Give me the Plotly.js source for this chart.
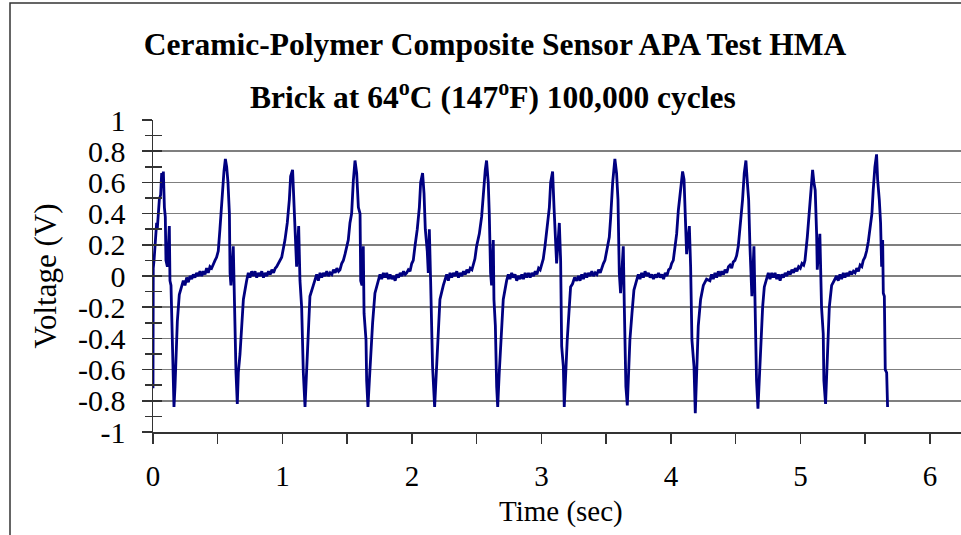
<!DOCTYPE html>
<html>
<head>
<meta charset="utf-8">
<script src="https://cdn.plot.ly/plotly-3.0.1.min.js"></script>
<style>
  html, body { margin: 0; padding: 0; background: #fff; }
  #chart { width: 961px; height: 535px; }
</style>
</head>
<body>
<div id="chart"></div>
<script>
// ---- Data ----
const titleLine1 = 'Ceramic-Polymer Composite Sensor APA Test HMA';
const titleLine2 = 'Brick at 64<sup>o</sup>C (147<sup>o</sup>F) 100,000 cycles';
const xTitle = 'Time (sec)';
const yTitle = 'Voltage (V)';

const xTickVals = [0, 1, 2, 3, 4, 5, 6];
const xTickText = ['0', '1', '2', '3', '4', '5', '6'];
const yTickVals = [-1, -0.8, -0.6, -0.4, -0.2, 0, 0.2, 0.4, 0.6, 0.8, 1];
const yTickText = ['-1', '-0.8', '-0.6', '-0.4', '-0.2', '0', '0.2', '0.4', '0.6', '0.8', '1'];

const timeSec = [
  // cycle 0
  0.000,0.002,0.008,0.015,0.018,0.028,0.033,0.049,0.059,0.067,0.072,0.080,0.088,0.095,0.100,0.111,0.126,0.131,0.139,0.147,0.152,0.162,0.170,0.178,0.188,0.203,0.221,
  0.234,0.247,0.260,0.273,0.286,0.299,0.311,0.324,0.337,0.350,0.363,0.376,0.389,0.402,0.414,0.427,0.440,0.453,0.466,
  // cycle 1
  0.479,0.491,0.504,0.517,0.528,0.538,0.548,0.559,0.569,0.579,0.590,0.595,0.602,0.620,0.626,0.636,0.641,0.651,0.659,0.672,0.685,0.698,0.723,
  0.736,0.749,0.762,0.775,0.788,0.801,0.814,0.827,0.840,0.853,0.866,0.879,0.892,0.905,0.918,0.931,0.944,
  // cycle 2
  0.955,0.970,0.994,1.019,1.037,1.053,1.063,1.078,1.089,1.099,1.109,1.125,1.135,1.148,1.161,1.174,1.187,1.199,1.212,1.238,
  1.251,1.264,1.277,1.290,1.303,1.316,1.329,1.342,1.355,1.368,1.381,1.394,1.407,1.420,1.433,1.444,
  // cycle 3
  1.457,1.470,1.483,1.496,1.508,1.521,1.534,1.547,1.560,1.573,1.586,1.599,1.604,1.614,1.624,1.630,1.645,1.650,1.660,1.671,1.681,1.696,1.714,1.740,
  1.753,1.766,1.779,1.792,1.805,1.818,1.831,1.844,1.857,1.870,1.883,1.896,1.909,1.922,1.935,1.948,
  // cycle 4
  1.959,1.972,1.985,1.998,2.010,2.023,2.041,2.057,2.067,2.082,2.093,2.103,2.118,2.126,2.134,2.144,2.152,2.159,2.175,2.190,2.203,2.216,2.242,
  2.255,2.268,2.281,2.294,2.307,2.320,2.333,2.346,2.359,2.372,2.385,2.398,2.411,2.424,2.437,2.450,2.463,
  // cycle 5
  2.473,2.486,2.499,2.520,2.538,2.551,2.566,2.576,2.589,2.597,2.607,2.615,2.628,2.633,2.644,2.654,2.662,2.674,2.687,2.705,2.731,
  2.744,2.757,2.770,2.783,2.796,2.809,2.822,2.835,2.848,2.861,2.874,2.887,2.900,2.913,2.926,2.939,2.952,2.965,2.978,2.990,
  // cycle 6
  3.001,3.014,3.027,3.045,3.061,3.071,3.086,3.097,3.107,3.117,3.138,3.148,3.156,3.169,3.176,3.189,3.199,3.215,3.225,3.240,3.256,3.272,
  3.285,3.298,3.311,3.324,3.337,3.350,3.363,3.376,3.389,3.402,3.415,3.428,3.441,3.454,3.467,
  // cycle 7
  3.478,3.490,3.503,3.524,3.534,3.550,3.567,3.580,3.591,3.601,3.611,3.632,3.640,3.652,3.663,3.673,3.683,3.699,3.714,3.731,3.748,
  3.761,3.774,3.787,3.800,3.813,3.826,3.839,3.852,3.865,3.878,3.891,3.904,3.917,3.930,3.943,3.956,3.969,3.982,3.995,
  // cycle 8
  4.005,4.018,4.031,4.044,4.057,4.075,4.090,4.101,4.111,4.121,4.142,4.152,4.162,4.178,4.188,4.198,4.211,4.229,4.250,4.275,4.301,
  4.314,4.327,4.340,4.353,4.366,4.379,4.392,4.405,4.418,4.431,4.444,
  // cycle 9
  4.456,4.469,4.481,4.494,4.507,4.520,4.538,4.553,4.566,4.579,4.590,4.600,4.610,4.615,4.625,4.641,4.649,4.654,4.661,4.672,4.683,4.693,4.708,4.721,4.737,4.752,
  4.765,4.778,4.791,4.804,4.817,4.830,4.843,4.856,4.869,4.882,4.895,4.908,4.921,4.934,4.947,4.960,4.973,4.986,4.999,5.012,5.025,
  // cycle 10
  5.035,5.053,5.068,5.079,5.094,5.104,5.114,5.125,5.130,5.150,5.158,5.163,5.176,5.181,5.194,5.202,5.212,5.223,5.241,5.260,5.279,
  5.292,5.305,5.318,5.331,5.344,5.357,5.370,5.383,5.396,5.409,5.422,5.435,5.448,5.461,5.474,
  // cycle 11
  5.485,5.498,5.511,5.524,5.537,5.552,5.562,5.575,5.588,5.596,5.609,5.619,5.627,5.635,5.640,5.648,5.655,5.666,5.673
];

const voltageV = [
  // cycle 0
  -0.72,0.05,0.10,0.21,0.18,0.34,0.30,0.49,0.52,0.66,0.58,0.67,0.44,0.38,0.10,0.06,0.32,-0.03,-0.06,-0.41,-0.62,-0.84,-0.71,-0.52,-0.29,-0.12,-0.07,
  -0.03,-0.06,-0.01,-0.04,0.00,-0.02,0.01,-0.01,0.02,0.00,0.03,0.00,0.03,0.01,0.05,0.02,0.06,0.05,0.08,
  // cycle 1
  0.10,0.12,0.16,0.30,0.44,0.60,0.67,0.75,0.70,0.60,0.40,0.02,-0.06,0.19,-0.07,-0.41,-0.62,-0.82,-0.62,-0.50,-0.32,-0.15,-0.03,
  0.02,-0.01,0.03,0.00,0.03,-0.01,0.02,0.00,0.03,-0.01,0.02,0.00,0.03,0.01,0.04,0.02,0.05,
  // cycle 2
  0.06,0.08,0.12,0.23,0.34,0.49,0.64,0.68,0.49,0.23,0.06,0.32,-0.03,-0.20,-0.62,-0.84,-0.62,-0.32,-0.13,-0.06,
  -0.02,0.01,-0.03,0.02,-0.01,0.02,0.00,0.03,0.00,0.02,0.01,0.04,0.02,0.05,0.03,0.04,
  // cycle 3
  0.08,0.10,0.14,0.19,0.23,0.34,0.40,0.61,0.74,0.66,0.44,0.40,-0.03,-0.06,0.19,-0.24,-0.41,-0.67,-0.84,-0.67,-0.50,-0.30,-0.11,-0.03,
  0.01,-0.02,0.02,-0.01,0.02,-0.02,0.01,-0.02,0.00,-0.03,0.01,-0.01,0.02,0.00,0.03,0.01,
  // cycle 4
  0.02,0.04,0.03,0.08,0.10,0.19,0.30,0.44,0.60,0.66,0.53,0.30,0.16,0.02,0.30,-0.03,-0.41,-0.58,-0.84,-0.58,-0.32,-0.15,-0.06,
  -0.02,0.01,-0.03,0.02,-0.01,0.02,0.00,0.03,-0.01,0.02,0.00,0.03,0.01,0.04,0.02,0.05,0.04,
  // cycle 5
  0.08,0.11,0.19,0.27,0.38,0.55,0.68,0.74,0.60,0.40,0.02,-0.06,0.23,-0.15,-0.32,-0.71,-0.84,-0.62,-0.41,-0.15,-0.03,
  0.01,-0.02,0.02,-0.01,0.01,-0.03,0.00,-0.02,0.01,-0.02,0.02,-0.01,0.02,-0.01,0.02,0.00,0.03,0.01,0.05,0.04,
  // cycle 6
  0.08,0.11,0.19,0.32,0.44,0.60,0.67,0.44,0.23,0.08,0.34,0.10,-0.45,-0.58,-0.84,-0.58,-0.41,-0.20,-0.07,-0.05,-0.01,-0.03,
  0.00,-0.03,0.01,-0.02,0.02,-0.01,0.02,0.00,0.03,0.00,0.02,0.01,0.04,0.02,0.06,
  // cycle 7
  0.08,0.10,0.15,0.25,0.37,0.60,0.75,0.66,0.49,0.02,-0.11,0.19,-0.20,-0.71,-0.83,-0.62,-0.41,-0.24,-0.09,-0.04,0.01,
  -0.02,0.02,-0.01,0.03,0.00,0.02,-0.01,0.01,-0.02,0.01,-0.01,0.02,-0.01,0.01,-0.02,0.02,0.00,0.04,0.05,
  // cycle 8
  0.08,0.10,0.19,0.27,0.42,0.55,0.67,0.62,0.38,0.14,0.32,0.06,-0.41,-0.58,-0.88,-0.58,-0.32,-0.15,-0.06,-0.02,-0.03,
  0.01,-0.02,0.02,-0.01,0.03,0.00,0.03,0.01,0.04,0.02,0.06,
  // cycle 9
  0.07,0.05,0.09,0.10,0.13,0.19,0.34,0.49,0.66,0.74,0.60,0.49,0.19,0.02,-0.13,0.19,-0.15,-0.37,-0.67,-0.85,-0.62,-0.45,-0.20,-0.07,-0.03,0.02,
  -0.02,0.02,-0.01,0.02,-0.02,0.01,-0.03,0.01,-0.01,0.02,0.00,0.03,0.01,0.04,0.02,0.05,0.03,0.06,0.05,0.08,0.07,
  // cycle 10
  0.10,0.25,0.42,0.55,0.68,0.60,0.55,0.27,0.04,0.27,0.02,-0.20,-0.37,-0.67,-0.82,-0.62,-0.41,-0.20,-0.06,-0.03,0.00,
  -0.03,0.01,-0.02,0.02,-0.01,0.02,0.00,0.03,0.01,0.03,0.02,0.05,0.03,0.07,0.06,
  // cycle 11
  0.10,0.12,0.16,0.22,0.30,0.40,0.55,0.70,0.78,0.62,0.49,0.34,0.06,0.23,-0.11,-0.13,-0.60,-0.62,-0.84
];

// ---- Chart ----
const FONT = '"Liberation Serif", "Times New Roman", Times, serif';
const AXIS_COLOR = '#333333';

const traces = [
  {
    type: 'scatter',
    mode: 'lines',
    x: timeSec,
    y: voltageV,
    line: { color: '#000080', width: 2.8 },
    hoverinfo: 'x+y',
    showlegend: false
  },
  {
    // invisible helper so the crossing-tick overlay axis is drawn
    type: 'scatter',
    mode: 'markers',
    x: [timeSec[0]],
    y: [voltageV[0]],
    yaxis: 'y2',
    marker: { opacity: 0 },
    hoverinfo: 'skip',
    showlegend: false
  }
];

const layout = {
  width: 961,
  height: 535,
  paper_bgcolor: '#ffffff',
  plot_bgcolor: '#ffffff',
  font: { family: FONT, color: '#000000', size: 29 },
  margin: { l: 153, r: 0, t: 120, b: 103, pad: 0 },
  showlegend: false,
  title: {
    text: '<b>' + titleLine1 + '</b>',
    font: { family: FONT, size: 31.5, color: '#000000' },
    xref: 'container', x: 495 / 961, xanchor: 'center',
    yref: 'container', y: 1 - 44 / 535, yanchor: 'middle'
  },
  annotations: [
    {
      text: '<b>' + titleLine2 + '</b>',
      xref: 'paper', x: (493 - 153) / 808, xanchor: 'center',
      yref: 'paper', y: 1 + (120 - 95) / 312, yanchor: 'middle',
      showarrow: false,
      font: { family: FONT, size: 31.5, color: '#000000' }
    },
    {
      text: xTitle,
      xref: 'paper', x: (561 - 153) / 808, xanchor: 'center',
      yref: 'paper', y: (432 - 511) / 312, yanchor: 'middle',
      showarrow: false,
      font: { family: FONT, size: 29, color: '#000000' }
    }
  ],
  xaxis: {
    range: [0, 6.24],
    tickvals: xTickVals,
    ticktext: xTickText,
    ticks: 'outside',
    ticklen: 10,
    tickwidth: 1.5,
    tickcolor: AXIS_COLOR,
    minor: { ticks: 'outside', ticklen: 10, tickwidth: 1.5, tickcolor: AXIS_COLOR, dtick: 0.5, tick0: 0, showgrid: false },
    showline: true,
    linecolor: AXIS_COLOR,
    linewidth: 1.5,
    showgrid: false,
    zeroline: false,
    tickfont: { family: FONT, size: 29, color: '#000000' },
    ticklabelstandoff: 8,
    automargin: false,
    fixedrange: true
  },
  yaxis: {
    range: [-1, 1],
    tickvals: yTickVals,
    ticktext: yTickText,
    ticks: 'outside',
    ticklen: 10,
    tickwidth: 1.5,
    tickcolor: AXIS_COLOR,
    minor: { ticks: 'outside', ticklen: 7, tickwidth: 1.5, tickcolor: AXIS_COLOR, dtick: 0.1, tick0: 0, showgrid: false },
    showline: true,
    linecolor: AXIS_COLOR,
    linewidth: 1.5,
    showgrid: true,
    gridcolor: '#7f7f7f',
    gridwidth: 1.5,
    zeroline: false,
    tickfont: { family: FONT, size: 30, color: '#000000' },
    ticklabelstandoff: 10,
    title: { text: yTitle, font: { family: FONT, size: 31, color: '#000000' }, standoff: 12 },
    automargin: false,
    fixedrange: true
  },
  yaxis2: {
    overlaying: 'y',
    anchor: 'x',
    side: 'left',
    range: [-1, 1],
    tickvals: yTickVals,
    ticks: 'inside',
    ticklen: 9,
    tickwidth: 1.5,
    tickcolor: AXIS_COLOR,
    minor: { ticks: 'inside', ticklen: 9, tickwidth: 1.5, tickcolor: AXIS_COLOR, dtick: 0.1, tick0: 0, showgrid: false },
    showticklabels: false,
    showline: false,
    showgrid: false,
    zeroline: false,
    automargin: false,
    fixedrange: true
  },
  shapes: [
    {
      type: 'rect', layer: 'below',
      xref: 'paper', yref: 'paper',
      x0: (10 - 153) / 808, x1: (970 - 153) / 808,
      y0: (432 - 545) / 312, y1: 1 + (120 - 3) / 312,
      line: { color: '#333333', width: 1.5 },
      fillcolor: 'rgba(0,0,0,0)'
    }
  ]
};

Plotly.newPlot('chart', traces, layout, { displayModeBar: false, staticPlot: true });
</script>
</body>
</html>
